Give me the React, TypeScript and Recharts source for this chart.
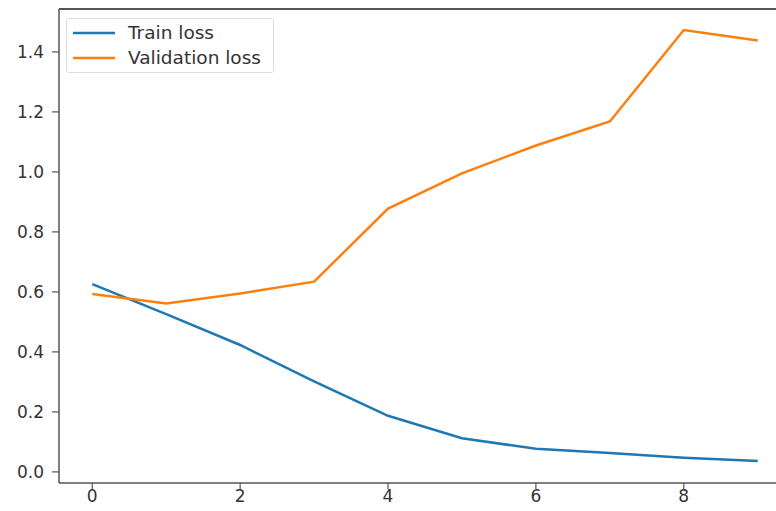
import React from 'react';
import { LineChart, Line, XAxis, YAxis, ReferenceLine } from 'recharts';

const epochs = [0, 1, 2, 3, 4, 5, 6, 7, 8, 9];
const trainLoss = [0.626, 0.526, 0.423, 0.302, 0.187, 0.112, 0.077, 0.063, 0.047, 0.036];
const valLoss = [0.593, 0.561, 0.595, 0.634, 0.878, 0.995, 1.088, 1.168, 1.473, 1.438];
const xTicks = [0, 2, 4, 6, 8];
const yTicks = [0, 0.2, 0.4, 0.6, 0.8, 1.0, 1.2, 1.4];
const seriesNames = ['Train loss', 'Validation loss'];
const seriesColors = ['#1f77b4', '#ff7f0e'];

const X_DOMAIN: [number, number] = [-0.45, 9.45];
const Y_DOMAIN: [number, number] = [-0.037, 1.543];

const data = epochs.map((e, i) => ({ epoch: e, train: trainLoss[i], val: valLoss[i] }));

const FONT = '"DejaVu Sans", sans-serif';
const AXIS_COLOR = '#555';
const TEXT_COLOR = '#333';

const LegendBox = () => (
  <div
    style={{
      position: 'absolute',
      left: 66,
      top: 18,
      width: 208,
      height: 55,
      border: '1px solid #dddddd',
      borderRadius: 3,
      background: 'rgba(255,255,255,0.8)',
      boxSizing: 'border-box',
      fontFamily: FONT,
      fontSize: 18.5,
      color: TEXT_COLOR,
    }}
  >
    {seriesNames.map((name, i) => (
      <div
        key={name}
        style={{ position: 'absolute', left: 0, top: 3 + i * 25, height: 22, display: 'flex', alignItems: 'center', whiteSpace: 'nowrap' }}
      >
        <svg width={61} height={22} style={{ display: 'block' }}>
          <line x1={6} y1={11} x2={48} y2={11} stroke={seriesColors[i]} strokeWidth={2.5} />
        </svg>
        <span style={{ lineHeight: '22px' }}>{name}</span>
      </div>
    ))}
  </div>
);

export default function App() {
  return (
    <div style={{ position: 'absolute', left: 0, top: 0, width: 776, height: 511, overflow: 'hidden', background: '#fff' }}>
      <LineChart width={800} height={511} data={data} margin={{ top: 9, right: 9, bottom: 0, left: 0 }}>
        <XAxis
          dataKey="epoch"
          type="number"
          domain={X_DOMAIN}
          ticks={xTicks}
          allowDataOverflow
          height={28}
          tickSize={6}
          tickMargin={1}
          axisLine={{ stroke: AXIS_COLOR, strokeWidth: 1.5 }}
          tickLine={{ stroke: AXIS_COLOR, strokeWidth: 1.2 }}
          tick={{ fill: TEXT_COLOR, fontSize: 17, fontFamily: FONT }}
        />
        <YAxis
          type="number"
          domain={Y_DOMAIN}
          ticks={yTicks}
          allowDataOverflow
          width={59}
          tickSize={7}
          tickMargin={8}
          tickFormatter={(v: number) => v.toFixed(1)}
          axisLine={{ stroke: AXIS_COLOR, strokeWidth: 1.5 }}
          tickLine={{ stroke: AXIS_COLOR, strokeWidth: 1.2 }}
          tick={{ fill: TEXT_COLOR, fontSize: 17, fontFamily: FONT }}
        />
        <ReferenceLine y={Y_DOMAIN[1]} stroke={AXIS_COLOR} strokeWidth={2} />
        <ReferenceLine x={X_DOMAIN[1]} stroke={AXIS_COLOR} strokeWidth={2} />
        <Line
          type="linear"
          dataKey="train"
          name={seriesNames[0]}
          stroke={seriesColors[0]}
          strokeWidth={2.5}
          dot={false}
          isAnimationActive={false}
        />
        <Line
          type="linear"
          dataKey="val"
          name={seriesNames[1]}
          stroke={seriesColors[1]}
          strokeWidth={2.5}
          dot={false}
          isAnimationActive={false}
        />
      </LineChart>
      <LegendBox />
    </div>
  );
}
